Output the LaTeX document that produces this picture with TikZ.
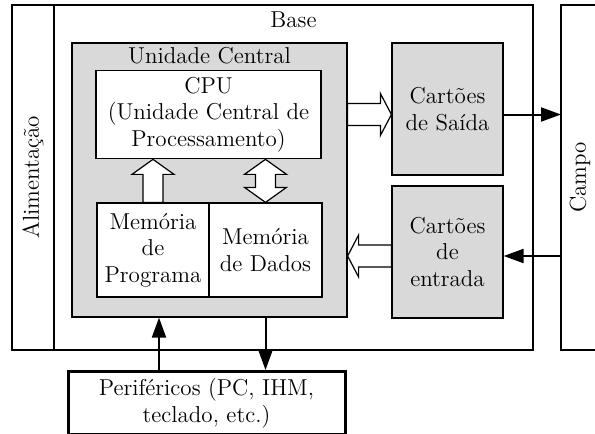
\documentclass[tikz,border=0pt]{standalone}
\usepackage{amsmath}
\usepackage{amssymb}
\usetikzlibrary{calc,arrows.meta}

\tikzset{
  outer box/.style={draw, line width=1pt},
  gray box/.style={draw, line width=0.6pt, fill=black!15, align=center},
  white box/.style={draw, line width=0.6pt, fill=white, align=center},
  hollow/.style={draw, line width=0.6pt, fill=white, line join=miter},
  link/.style={line width=1pt, -{Triangle[length=10pt,width=7pt]}},
}

\begin{document}
\begin{tikzpicture}[x=0.5pt, y=-0.5pt, font=\fontsize{11.5}{13.3}\selectfont]
    \useasboundingbox (0,0) rectangle (595,434);

    % Alimentacao and base
    \node[outer box, rotate=90, minimum width=172.5pt, minimum height=21pt] (alim) at (33,177.5) {Alimentação};
    \node[outer box, minimum width=239.5pt, minimum height=172.5pt] (base) at (293.5,177.5) {};
    \node[anchor=north, inner sep=3.5pt] (baselbl) at (base.north) {Base};

    % Campo (open on the right)
    \coordinate (campo) at (561,177.5);
    \draw[line width=1pt] (595,5) -| (561,350) -- (595,350);
    \node[rotate=90] (campolbl) at (580,177.5) {Campo};

    % Unidade central
    \node[gray box, minimum width=137.5pt, minimum height=137pt] (uc) at (209.5,180) {};
    \node[anchor=north, inner sep=2.5pt] (uclbl) at (uc.north) {Unidade Central};
    \node[white box, minimum width=112.5pt, minimum height=42.5pt] (cpu) at (208.5,114.5) {CPU\\(Unidade Central de\\Processamento)};
    \node[white box, minimum width=56pt, minimum height=47pt] (prog) at (153,250) {Memória\\de\\Programa};
    \node[white box, minimum width=56.5pt, minimum height=47pt] (dados) at (265.5,250) {Memória\\de Dados};

    % Cartoes
    \node[gray box, minimum width=55.5pt, minimum height=66pt] (saida) at (447.5,109) {Cartões\\de Saída};
    \node[gray box, minimum width=55.5pt, minimum height=66pt] (entrada) at (447.5,252) {Cartões\\de\\entrada};

    % Perifericos
    \node[draw, line width=1.5pt, align=center, minimum width=138.5pt, minimum height=26pt] (perif) at (206.5,403) {Periféricos (PC, IHM,\\teclado, etc.)};

    % Hollow arrows
    \coordinate (p1) at (prog.north |- cpu.south);
    \draw[hollow] (p1) -- ++(21,15) -- ++(-11,0) -- ($(prog.north)+(10,0)$) -- ++(-20,0) -- ($(p1)+(-10,15)$) -- ++(-11,0) -- cycle;
    \coordinate (d1) at (dados.north |- cpu.south);
    \draw[hollow] (d1) -- ++(21,15) -- ++(-11,0) -- ($(dados.north)+(10,-15)$) -- ++(11,0) -- (dados.north)
        -- ++(-21,-15) -- ++(11,0) -- ($(d1)+(-10,15)$) -- ++(-11,0) -- cycle;
    \coordinate (s1) at (saida.west |- cpu);
    \draw[hollow] (s1) -- ++(-11,21) -- ++(0,-10) -- ($(uc.east |- cpu)+(0,11)$) -- ++(0,-22) -- ($(s1)+(-11,-11)$) -- ++(0,-10) -- cycle;
    \coordinate (e1) at ([yshift=-2pt]entrada.west);
    \coordinate (e2) at (uc.east |- e1);
    \draw[hollow] (e2) -- ++(11,-21) -- ++(0,10) -- ($(e1)+(0,-11)$) -- ++(0,22) -- ($(e2)+(11,11)$) -- ++(0,10) -- cycle;

    % Black arrows
    \draw[link] (saida.east |- cpu) -- (campo |- cpu);
    \draw[link] (campo |- e1) -- (entrada.east |- e1);
    \draw[link] ($(prog.south |- perif.north)+(6,0)$) -- ($(prog.south |- uc.south)+(6,0)$);
    \draw[link] (dados.south |- uc.south) -- (dados.south |- perif.north);
\end{tikzpicture}
\end{document}
